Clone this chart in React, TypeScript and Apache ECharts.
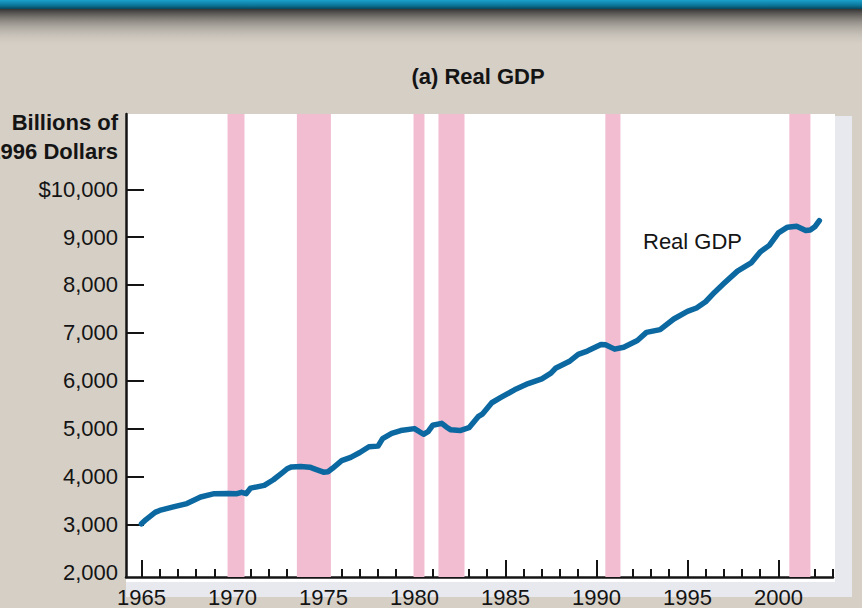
import React, { useEffect, useRef } from "react";
import * as echarts from "echarts";

// Quarterly real GDP, billions of 1996 dollars
const gdpYears = [
  1965.0, 1965.25, 1965.75, 1966.0, 1966.75, 1967.5, 1968.25, 1969.0, 1969.75, 1970.25,
  1970.5, 1970.75, 1971.0, 1971.75, 1972.25, 1972.75, 1973.0, 1973.25, 1973.75, 1974.25,
  1974.5, 1975.0, 1975.25, 1975.5, 1976.0, 1976.5, 1977.0, 1977.5, 1978.0, 1978.25,
  1978.75, 1979.25, 1980.0, 1980.5, 1980.75, 1981.0, 1981.5, 1981.75, 1982.0, 1982.5,
  1983.0, 1983.5, 1983.75, 1984.25, 1984.75, 1985.5, 1986.25, 1987.0, 1987.5, 1987.75,
  1988.5, 1989.0, 1989.5, 1990.25, 1990.5, 1991.0, 1991.5, 1992.25, 1992.75, 1993.5,
  1994.25, 1995.0, 1995.5, 1996.0, 1996.5, 1997.0, 1997.75, 1998.5, 1999.0, 1999.5,
  2000.0, 2000.5, 2001.0, 2001.5, 2001.75, 2002.0, 2002.25,
];
const gdpValues = [
  3010, 3100, 3250, 3290, 3364, 3434, 3571, 3641, 3645, 3640,
  3668, 3641, 3757, 3813, 3931, 4082, 4160, 4200, 4210, 4195,
  4160, 4090, 4100, 4171, 4330, 4400, 4500, 4620, 4634, 4792,
  4900, 4960, 5000, 4882, 4935, 5069, 5110, 5034, 4975, 4960,
  5020, 5250, 5309, 5540, 5650, 5810, 5940, 6040, 6157, 6260,
  6400, 6550, 6620, 6757, 6750, 6660, 6700, 6840, 7010, 7068,
  7290, 7449, 7520, 7650, 7850, 8030, 8290, 8460, 8690, 8828,
  9090, 9208, 9228, 9140, 9150, 9215, 9345,
];

// Recession periods (shaded)
const recessionStart = [1969.73, 1973.54, 1979.95, 1981.32, 1990.49, 2000.6];
const recessionEnd = [1970.66, 1975.41, 1980.55, 1982.75, 1991.32, 2001.76];

// Axis ticks and labels
const yearTicks = [
  1965, 1966, 1967, 1968, 1969, 1970, 1971, 1972, 1973, 1974, 1975, 1976, 1977,
  1978, 1979, 1980, 1981, 1982, 1983, 1984, 1985, 1986, 1987, 1988, 1989, 1990,
  1991, 1992, 1993, 1994, 1995, 1996, 1997, 1998, 1999, 2000, 2001, 2002, 2003,
];
const yearLabels = [1965, 1970, 1975, 1980, 1985, 1990, 1995, 2000];
const valueTicks = [3000, 4000, 5000, 6000, 7000, 8000, 9000, 10000];
const valueLabels = [2000, 3000, 4000, 5000, 6000, 7000, 8000, 9000, 10000];

const FONT = '"Liberation Sans", Arial, sans-serif';
const INK = "#141414";
const BG = "#d5cfc6";

export default function App() {
  const ref = useRef<HTMLDivElement>(null);

  useEffect(() => {
    if (!ref.current) return;
    const chart = echarts.init(ref.current, null, { renderer: "svg" });

    const xMin = 1964.15;
    const xMax = 2003;

    const option = {
      animation: false,
      backgroundColor: BG,
      grid: { left: 126, right: 29, top: 114, bottom: 26, containLabel: false },
      graphic: [
        // top banner
        {
          type: "rect",
          z: -10,
          shape: { x: 0, y: 0, width: 862, height: 9 },
          style: {
            fill: new echarts.graphic.LinearGradient(0, 0, 0, 1, [
              { offset: 0, color: "#1aa3cc" },
              { offset: 0.6, color: "#0c7598" },
              { offset: 1, color: "#07465c" },
            ]),
          },
        },
        {
          type: "rect",
          z: -10,
          shape: { x: 0, y: 9, width: 862, height: 38 },
          style: {
            fill: new echarts.graphic.LinearGradient(0, 0, 0, 1, [
              { offset: 0, color: "rgba(45,45,45,0.95)" },
              { offset: 0.35, color: "rgba(110,106,100,0.6)" },
              { offset: 1, color: "rgba(213,207,198,0)" },
            ]),
          },
        },
        // panel frame behind the plot
        {
          type: "rect",
          z: -9,
          shape: { x: 126, y: 116, width: 726, height: 481 },
          style: { fill: "#e7e9ee" },
        },
        {
          type: "rect",
          z: -8,
          shape: { x: 126, y: 114, width: 709, height: 468 },
          style: { fill: "#ffffff" },
        },
        // title
        {
          type: "text",
          z: 10,
          x: 478,
          y: 76,
          style: {
            text: "(a) Real GDP",
            fontFamily: FONT,
            fontWeight: "bold",
            fontSize: 22,
            fill: INK,
            align: "center",
            verticalAlign: "middle",
          },
        },
        // y-axis name
        {
          type: "text",
          z: 10,
          x: 118,
          y: 108,
          style: {
            text: "Billions of\n1996 Dollars",
            fontFamily: FONT,
            fontWeight: "bold",
            fontSize: 22,
            lineHeight: 29,
            fill: INK,
            align: "right",
            verticalAlign: "top",
          },
        },
        // series label
        {
          type: "text",
          z: 10,
          x: 643,
          y: 241,
          style: {
            text: "Real GDP",
            fontFamily: FONT,
            fontSize: 22,
            fill: INK,
            align: "left",
            verticalAlign: "middle",
          },
        },
      ],
      xAxis: [
        {
          type: "value",
          min: xMin,
          max: xMax,
          position: "bottom",
          axisLine: { show: true, lineStyle: { color: INK, width: 2.5 } },
          axisTick: {
            show: true,
            inside: true,
            length: 8,
            customValues: yearTicks,
            lineStyle: { color: INK, width: 2 },
          },
          axisLabel: { show: false },
          splitLine: { show: false },
        },
        {
          type: "value",
          min: xMin,
          max: xMax,
          position: "bottom",
          axisLine: { show: false },
          axisTick: {
            show: true,
            inside: true,
            length: 17,
            customValues: yearLabels,
            lineStyle: { color: INK, width: 2 },
          },
          axisLabel: {
            show: true,
            customValues: yearLabels,
            margin: 9,
            color: INK,
            fontFamily: FONT,
            fontSize: 22,
            formatter: (v: number) => String(Math.round(v)),
          },
          splitLine: { show: false },
        },
      ],
      yAxis: {
        type: "value",
        min: 1900,
        max: 11572,
        axisLine: { show: true, lineStyle: { color: INK, width: 2.5 } },
        axisTick: {
          show: true,
          inside: true,
          length: 18,
          customValues: valueTicks,
          lineStyle: { color: INK, width: 2 },
        },
        axisLabel: {
          show: true,
          customValues: valueLabels,
          margin: 8,
          color: INK,
          fontFamily: FONT,
          fontSize: 22,
          formatter: (v: number) =>
            v === 10000 ? "$10,000" : Math.round(v).toLocaleString("en-US"),
        },
        splitLine: { show: false },
      },
      series: [
        {
          name: "recessions",
          type: "line",
          z: 1,
          data: [],
          silent: true,
          markArea: {
            silent: true,
            itemStyle: { color: "#f2bcd1", opacity: 1 },
            data: recessionStart.map((s, i) => [{ xAxis: s }, { xAxis: recessionEnd[i] }]),
          },
        },
        {
          name: "Real GDP",
          type: "line",
          z: 3,
          xAxisIndex: 0,
          yAxisIndex: 0,
          showSymbol: false,
          symbol: "none",
          data: gdpYears.map((y, i) => [y, gdpValues[i]]),
          lineStyle: { color: "#0b68a0", width: 5.5, cap: "round", join: "round" },
        },
      ],
    };

    chart.setOption(option as any);
    return () => chart.dispose();
  }, []);

  return (
    <div
      ref={ref}
      style={{ position: "fixed", left: 0, top: 0, width: 862, height: 608 }}
    />
  );
}
